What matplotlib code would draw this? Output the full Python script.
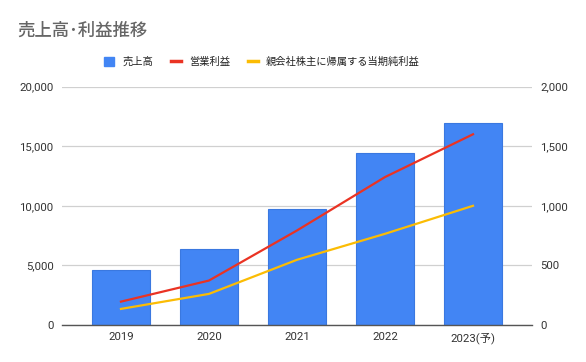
import matplotlib
matplotlib.use("Agg")
import matplotlib.pyplot as plt
from matplotlib.patches import Patch
from matplotlib.lines import Line2D

plt.rcParams['font.family'] = ['Roboto', 'Noto Sans CJK JP', 'DejaVu Sans']

# ---------------------------
# Data
# ---------------------------
years = ["2019", "2020", "2021", "2022", "2023(予)"]
sales = [4630, 6360, 9720, 14410, 16960]          # 売上高 (left axis)
op_profit = [196, 373, 793, 1241, 1600]            # 営業利益 (right axis)
net_profit = [135, 261, 547, 765, 1000]            # 親会社株主に帰属する当期純利益 (right axis)

left_ticks = [0, 5000, 10000, 15000, 20000]
right_ticks = [0, 500, 1000, 1500, 2000]

BLUE = "#4285f4"
RED = "#ea3323"
YELLOW = "#fbbc04"
GRID = "#d0d0d0"
TXT = "#333333"

fig = plt.figure(figsize=(5.86, 3.62), dpi=100)
ax = fig.add_axes([0.1058, 0.1022, 0.802, 0.6586])
ax2 = ax.twinx()

x = list(range(len(years)))
ax.bar(x, sales, width=0.65, color=BLUE, edgecolor="#3a78e0", linewidth=0.8, zorder=2)
ax2.plot(x, op_profit, color=RED, linewidth=1.6, zorder=3)
ax2.plot(x, net_profit, color=YELLOW, linewidth=1.6, zorder=3)

ax.set_xlim(-0.67, 4.67)
ax.set_ylim(0, 20000)
ax2.set_ylim(0, 2000)
ax.set_yticks(left_ticks)
ax.set_yticklabels([f"{v:,}" for v in left_ticks])
ax2.set_yticks(right_ticks)
ax2.set_yticklabels([f"{v:,}" for v in right_ticks])
ax.set_xticks(x)
ax.set_xticklabels(years)

ax.grid(axis="y", color=GRID, linewidth=0.9, zorder=0)
ax.set_axisbelow(True)
for a in (ax, ax2):
    for s in a.spines.values():
        s.set_visible(False)
    a.tick_params(length=0, labelsize=8.2, labelcolor=TXT)
ax.spines["bottom"].set_visible(True)
ax.spines["bottom"].set_color("#555555")
ax.spines["bottom"].set_linewidth(1.0)
ax.tick_params(axis="y", pad=6)
ax.tick_params(axis="x", pad=5)
ax2.tick_params(axis="y", pad=6)

fig.text(0.03, 0.915, "売上高･利益推移", fontsize=12.5, color="#666666",
         fontweight="medium", ha="left", va="center")

handles = [
    Patch(facecolor=BLUE, edgecolor=BLUE),
    Line2D([0], [0], color=RED, linewidth=2.5),
    Line2D([0], [0], color=YELLOW, linewidth=2.5),
]
labels = ["売上高", "営業利益", "親会社株主に帰属する当期純利益"]
fig.legend(handles, labels, loc="center", bbox_to_anchor=(0.447, 0.829), ncol=3,
           frameon=False, fontsize=7.4, handlelength=1.0, handleheight=1.0,
           columnspacing=1.7, handletextpad=0.8, labelcolor="#222222")

fig.savefig("out.png", dpi=100, facecolor="white")
